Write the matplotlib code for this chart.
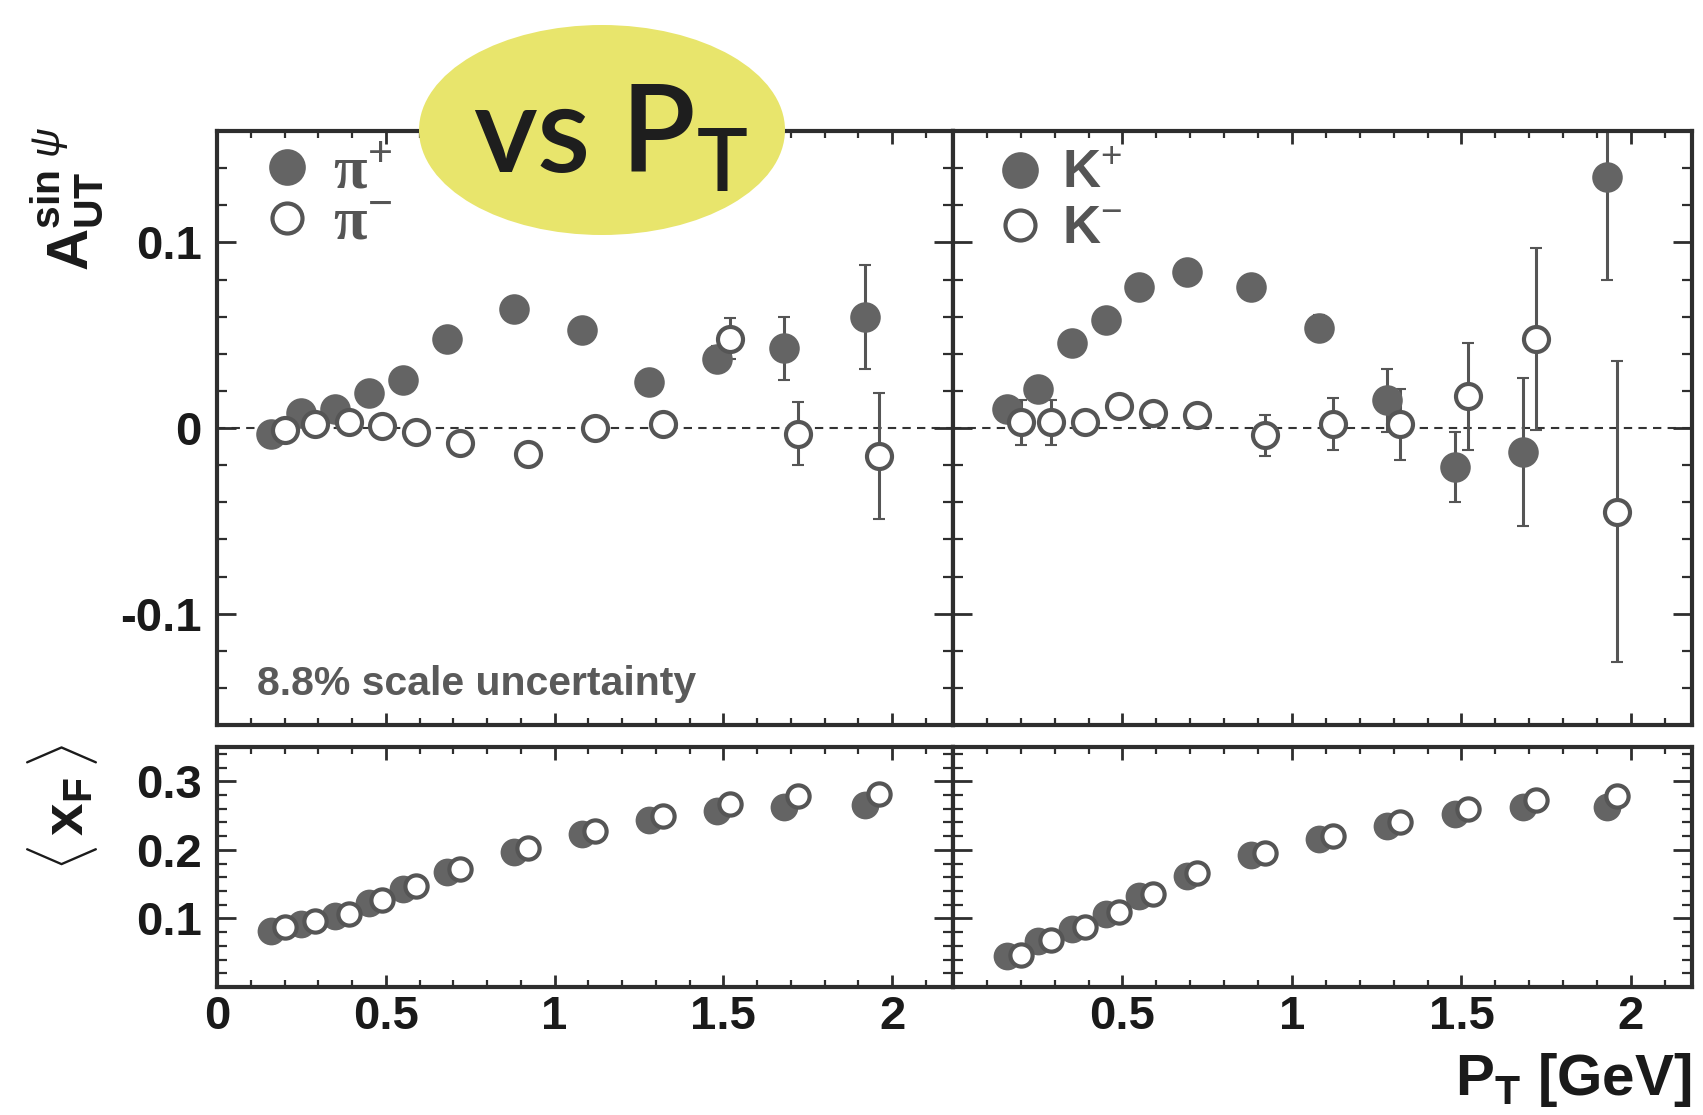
import numpy as np
import matplotlib.pyplot as plt
from matplotlib.patches import Ellipse
from matplotlib.ticker import MultipleLocator

plt.rcParams['font.family'] = ['Liberation Sans', 'DejaVu Sans']
plt.rcParams['mathtext.fontset'] = 'custom'
plt.rcParams['mathtext.rm'] = 'Liberation Sans'
plt.rcParams['mathtext.bf'] = 'Liberation Sans:bold'
plt.rcParams['mathtext.it'] = 'Liberation Sans:italic'
plt.rcParams['mathtext.sf'] = 'Liberation Sans'
plt.rcParams['axes.unicode_minus'] = False

# --- podaci: pioni ---
pip_pt = [0.16, 0.25, 0.35, 0.45, 0.55, 0.68, 0.88, 1.08, 1.28, 1.48, 1.68, 1.92]
pip_A = [-0.003, 0.008, 0.010, 0.019, 0.026, 0.048, 0.064, 0.053, 0.025, 0.037, 0.043, 0.060]
pip_err = [0.004, 0.004, 0.004, 0.004, 0.004, 0.005, 0.005, 0.005, 0.006, 0.007, 0.017, 0.028]
pim_pt = [0.20, 0.29, 0.39, 0.49, 0.59, 0.72, 0.92, 1.12, 1.32, 1.52, 1.72, 1.96]
pim_A = [-0.001, 0.002, 0.003, 0.001, -0.002, -0.008, -0.014, 0.000, 0.002, 0.048, -0.003, -0.015]
pim_err = [0.004, 0.004, 0.004, 0.004, 0.004, 0.005, 0.005, 0.005, 0.006, 0.011, 0.017, 0.034]
pip_xF = [0.082, 0.092, 0.104, 0.122, 0.143, 0.167, 0.197, 0.223, 0.244, 0.257, 0.263, 0.265]
pim_xF = [0.087, 0.096, 0.107, 0.127, 0.147, 0.172, 0.202, 0.228, 0.250, 0.267, 0.278, 0.281]

# --- podaci: kaoni ---
kp_pt = [0.16, 0.25, 0.35, 0.45, 0.55, 0.69, 0.88, 1.08, 1.28, 1.48, 1.68, 1.93]
kp_A = [0.010, 0.021, 0.046, 0.058, 0.076, 0.084, 0.076, 0.054, 0.015, -0.021, -0.013, 0.135]
kp_err = [0.006, 0.006, 0.006, 0.006, 0.006, 0.006, 0.006, 0.007, 0.017, 0.019, 0.040, 0.055]
km_pt = [0.20, 0.29, 0.39, 0.49, 0.59, 0.72, 0.92, 1.12, 1.32, 1.52, 1.72, 1.96]
km_A = [0.003, 0.003, 0.003, 0.012, 0.008, 0.007, -0.004, 0.002, 0.002, 0.017, 0.048, -0.045]
km_err = [0.012, 0.012, 0.006, 0.006, 0.006, 0.006, 0.011, 0.014, 0.019, 0.029, 0.049, 0.081]
kp_xF = [0.045, 0.067, 0.084, 0.106, 0.132, 0.162, 0.192, 0.216, 0.235, 0.252, 0.262, 0.262]
km_xF = [0.047, 0.069, 0.087, 0.109, 0.135, 0.166, 0.196, 0.220, 0.240, 0.259, 0.272, 0.278]

pi_labels = ['π$^{+}$', 'π$^{-}$']
k_labels = ['K$^{+}$', 'K$^{-}$']

fill_c = '#646464'
edge_c = '#555555'
spine_c = '#2e2e2e'

fig = plt.figure(figsize=(17.03, 11.15), dpi=100)
W, H = 1703, 1115
def box(x0, y0, x1, y1):
    return [x0 / W, 1 - y1 / H, (x1 - x0) / W, (y1 - y0) / H]

ax_tl = fig.add_axes(box(217, 131, 953, 725))
ax_tr = fig.add_axes(box(953, 131, 1692, 725))
ax_bl = fig.add_axes(box(217, 747, 953, 987))
ax_br = fig.add_axes(box(953, 747, 1692, 987))


def style(ax, top):
    ax.set_xlim(0, 2.18)
    for s in ax.spines.values():
        s.set_linewidth(3)
        s.set_color(spine_c)
    ax.xaxis.set_major_locator(MultipleLocator(0.5))
    ax.xaxis.set_minor_locator(MultipleLocator(0.1))
    if top:
        ax.set_ylim(-0.16, 0.16)
    else:
        ax.set_ylim(0, 0.35)
    ax.yaxis.set_major_locator(MultipleLocator(0.1))
    ax.yaxis.set_minor_locator(MultipleLocator(0.02))
    ax.tick_params(which='both', direction='in', top=True, right=True,
                   color=spine_c, labelsize=34, labelcolor='#1a1a1a')
    ax.tick_params(axis='y', which='major', length=14, width=2, pad=11)
    ax.tick_params(axis='y', which='minor', length=7, width=1.6)
    ax.tick_params(axis='x', which='major', length=9, width=2, pad=6)
    ax.tick_params(axis='x', which='minor', length=5, width=1.6)


def asym_panel(ax, pt1, A1, e1, pt2, A2, e2, labels):
    ax.axhline(0, color='#333333', lw=1.5, ls=(0, (4, 3)), zorder=1)
    ax.errorbar(pt1, A1, yerr=e1, fmt='none', ecolor=edge_c, elinewidth=2.2,
                capsize=4, capthick=1.5, zorder=2)
    ax.errorbar(pt2, A2, yerr=e2, fmt='none', ecolor=edge_c, elinewidth=2.2,
                capsize=4, capthick=1.5, zorder=2)
    ax.plot(pt1, A1, ls='none', marker='o', ms=22, mfc=fill_c, mec=fill_c,
            mew=0, zorder=3, label=labels[0])
    ax.plot(pt2, A2, ls='none', marker='o', ms=18, mfc='white', mec=edge_c,
            mew=3, zorder=4, label=labels[1])


def xf_panel(ax, pt1, x1, pt2, x2):
    ax.plot(pt1, x1, ls='none', marker='o', ms=20, mfc=fill_c, mec=fill_c,
            mew=0, zorder=3)
    ax.plot(pt2, x2, ls='none', marker='o', ms=16, mfc='white', mec=edge_c,
            mew=3, zorder=4)


asym_panel(ax_tl, pip_pt, pip_A, pip_err, pim_pt, pim_A, pim_err, pi_labels)
asym_panel(ax_tr, kp_pt, kp_A, kp_err, km_pt, km_A, km_err, k_labels)
xf_panel(ax_bl, pip_pt, pip_xF, pim_pt, pim_xF)
xf_panel(ax_br, kp_pt, kp_xF, km_pt, km_xF)

for ax in (ax_tl, ax_tr):
    style(ax, True)
for ax in (ax_bl, ax_br):
    style(ax, False)

ax_tl.set_yticks([-0.1, 0, 0.1], ['-0.1', '0', '0.1'])
ax_tl.set_xticklabels([])
ax_tr.set_xticklabels([])
ax_tr.set_yticklabels([])
ax_bl.set_yticks([0.1, 0.2, 0.3], ['0.1', '0.2', '0.3'])
ax_bl.set_xticks([0, 0.5, 1, 1.5, 2], ['0', '0.5', '1', '1.5', '2'])
ax_br.set_xticks([0.5, 1, 1.5, 2], ['0.5', '1', '1.5', '2'])
ax_br.set_yticklabels([])
for ax in (ax_tl, ax_tr, ax_bl, ax_br):
    for lab in ax.get_xticklabels() + ax.get_yticklabels():
        lab.set_fontweight('bold')

# legende
ax_tl.legend(loc='upper left', bbox_to_anchor=(0.058, 0.976), frameon=False,
             prop={'family': ['Liberation Serif', 'DejaVu Serif'], 'size': 44, 'weight': 'bold'},
             labelcolor='#555555', markerscale=1.2, handlelength=0.9,
             handletextpad=0.3, labelspacing=-0.08, borderpad=0, borderaxespad=0)
ax_tr.legend(loc='upper left', bbox_to_anchor=(0.058, 0.969), frameon=False,
             prop={'size': 38, 'weight': 'bold'},
             labelcolor='#555555', markerscale=1.2, handlelength=0.9,
             handletextpad=0.35, labelspacing=0.09, borderpad=0, borderaxespad=0)

ax_tl.text(0.054, 0.05, '8.8% scale uncertainty', transform=ax_tl.transAxes,
           fontsize=29.5, fontweight='bold', color='#5a5a5a', va='baseline')

# osi
ax_tl.set_ylabel(r'$\mathbf{A}_{\mathbf{UT}}^{\mathbf{sin}\ \psi}$', fontsize=42, color='#1a1a1a')
ax_tl.yaxis.set_label_coords(-0.151, 0.886)
ax_bl.set_ylabel(r'$\langle\,\mathbf{x}_{\mathbf{F}}\,\rangle$', fontsize=42, color='#1a1a1a')
ax_bl.yaxis.set_label_coords(-0.159, 0.746)
ax_br.set_xlabel(r'$\mathbf{P}_{\mathbf{T}}$ [GeV]', fontsize=42, fontweight='bold',
                 color='#1a1a1a', ha='right')
ax_br.xaxis.set_label_coords(1.0, -0.265)

# žuti oval
fig.add_artist(Ellipse((602 / W, 1 - 130 / H), 366 / W, 210 / H,
                       transform=fig.transFigure, facecolor='#e8e56c',
                       edgecolor='none', zorder=10))
fig.text(473 / W, 1 - 172 / H, r'vs P$_{\mathregular{T}}$', fontsize=88,
         family=['Lato', 'DejaVu Sans'], fontweight='semibold', color='#1e1e1e',
         va='baseline', ha='left', zorder=11)

fig.savefig('out.png', dpi=100, facecolor='white')
